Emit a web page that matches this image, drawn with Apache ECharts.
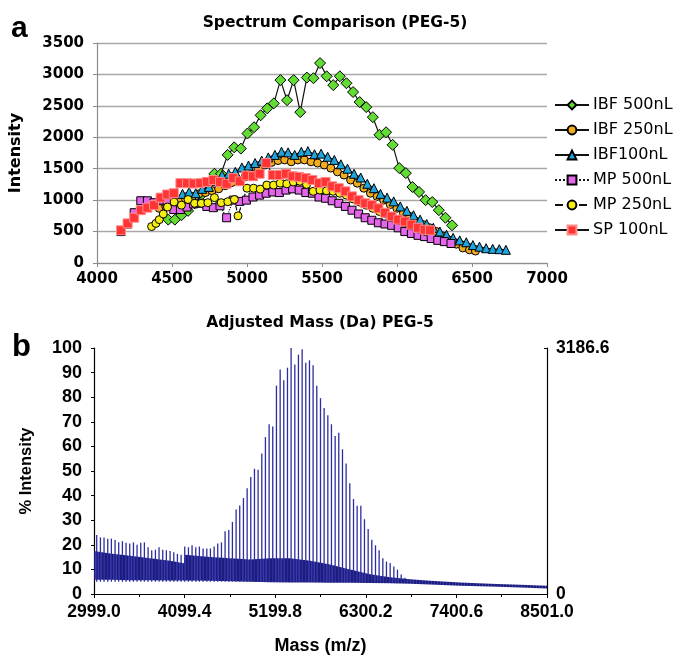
<!DOCTYPE html>
<html><head><meta charset="utf-8">
<script src="https://cdn.jsdelivr.net/npm/echarts@6/dist/echarts.min.js"></script>
<style>html,body{margin:0;padding:0;background:#fff}#c{width:676px;height:656px}</style>
</head><body><div id="c"></div>
<script>
// ---------- Panel a: Spectrum Comparison (PEG-5) ----------
const seriesNames = ['IBF 500nL', 'IBF 250nL', 'IBF100nL', 'MP 500nL', 'MP 250nL', 'SP 100nL'];

const ibf500Mass = [4475,4519,4563,4607,4651,4695,4739,4783,4827,4871,4915,4959,5003,5047,5091,5135,5179,5223,5267,5311,5355,5399,5443,5487,5531,5575,5619,5663,5707,5751,5795,5839,5883,5927,5971,6015,6059,6103,6147,6191,6235,6279,6323,6367];
const ibf500Int  = [690,690,760,830,950,1080,1250,1420,1420,1720,1840,1820,2060,2160,2350,2460,2540,2910,2590,2910,2400,2950,2940,3180,2970,2830,2970,2860,2720,2560,2480,2320,2040,2080,1880,1510,1430,1210,1130,1000,970,840,720,600];

const ibf250Mass = [4415,4459,4503,4547,4591,4635,4679,4723,4767,4811,4855,4899,4943,4987,5031,5075,5119,5163,5207,5251,5295,5339,5383,5427,5471,5515,5559,5603,5647,5691,5735,5779,5823,5867,5911,5955,5999,6043,6087,6131,6175,6219,6263,6307,6351,6395,6439,6483,6523];
const ibf250Int  = [870,900,930,980,1010,1060,1100,1120,1150,1180,1230,1280,1320,1370,1420,1500,1560,1600,1630,1640,1610,1640,1640,1610,1590,1560,1510,1450,1400,1320,1270,1190,1110,1060,1000,930,870,790,740,660,610,560,500,430,360,300,240,210,190];

const ibf100Mass = [4570,4614,4658,4702,4746,4790,4834,4878,4922,4966,5010,5054,5098,5142,5186,5230,5274,5318,5362,5406,5450,5494,5538,5582,5626,5670,5714,5758,5802,5846,5890,5934,5978,6022,6066,6110,6154,6198,6242,6286,6330,6374,6418,6462,6506,6550,6594,6638,6682,6726];
const ibf100Int  = [1100,1130,1110,1180,1210,1300,1400,1420,1450,1520,1550,1590,1630,1680,1720,1770,1760,1720,1770,1780,1730,1740,1690,1640,1570,1500,1420,1360,1260,1190,1100,1040,980,900,830,760,690,620,560,500,450,400,360,330,285,260,235,225,220,210];

const mp500Mass = [4160,4204,4248,4292,4336,4380,4424,4468,4512,4556,4600,4644,4688,4732,4776,4820,4864,4908,4952,4996,5040,5084,5128,5172,5216,5260,5304,5348,5392,5436,5480,5524,5568,5612,5656,5700,5744,5788,5832,5876,5920,5964,6008,6052,6096,6140,6184,6228,6272,6316,6360];
const mp500Int  = [500,620,800,990,990,960,1000,960,850,850,890,940,950,900,880,910,720,1000,980,1000,1050,1080,1110,1130,1120,1160,1180,1160,1120,1110,1050,1030,990,950,900,840,780,720,680,640,620,600,560,500,470,440,420,390,360,340,310];

const mp250Mass = [4364,4393,4415,4442,4470,4514,4563,4607,4651,4695,4739,4783,4828,4872,4916,4940,5000,5044,5088,5132,5177,5221,5265,5309,5353,5397,5441,5486,5530,5574,5618,5662,5707,5751,5795,5839,5883,5927,5971,6016,6060,6104,6148,6192];
const mp250Int  = [580,630,690,780,890,970,920,1010,950,950,960,1040,960,975,1010,750,1190,1190,1175,1240,1240,1270,1260,1290,1300,1250,1140,1160,1150,1140,1110,1080,1020,970,920,870,820,780,720,680,640,590,540,500];

const sp100Mass = [4160,4204,4248,4292,4336,4380,4424,4468,4512,4556,4600,4644,4688,4732,4776,4820,4864,4908,4952,4996,5040,5084,5128,5172,5216,5260,5304,5348,5392,5436,5480,5524,5568,5612,5656,5700,5744,5788,5832,5876,5920,5964,6008,6052,6096,6140,6184,6220];
const sp100Int  = [520,630,720,840,880,920,1040,1090,1110,1270,1270,1265,1270,1290,1320,1290,1260,1350,1300,1390,1380,1420,1590,1400,1400,1420,1380,1370,1350,1320,1270,1290,1220,1190,1140,1060,1000,950,920,870,800,740,690,660,610,560,530,520];

const topXTicks = [4000, 7000, 500];   // min, max, step
const topYTicks = [0, 3500, 500];

// ---------- Panel b: Adjusted Mass (Da) PEG-5 ----------
const peakMass = [3032,3077,3121,3166,3210,3255,3299,3344,3388,3433,3478,3522,3567,3611,3656,3700,3745,3789,3834,3878,3923,3968,4012,4057,4101,4146,4190,4235,4279,4324,4369,4413,4458,4502,4547,4591,4636,4680,4725,4769,4814,4859,4903,4948,4992,5037,5081,5126,5170,5215,5260,5304,5349,5393,5438,5482,5527,5571,5616,5660,5705,5750,5794,5839,5883,5928,5972,6017,6061,6106,6151,6195,6240,6284,6329,6373,6418,6462,6507,6551,6596,6641,6685,6730,6774,6819,6863];
const peakPct  = [24,23,23,22.5,22.5,22,21,21.5,20.8,20.5,21,20,20.8,21,19,17.8,18,19,18,17.8,17.5,17,16.3,16,19.3,19,19.8,19,19.3,18.5,18.5,18.5,19.3,20.5,21,25.5,26,29.3,34.4,36,39,43,47.6,
                  50.9,50.5,57.1,63.8,69,68.1,84.7,91.3,86.9,92,100,93.3,97.3,99.5,94,95,93,84.7,79.6,75.6,72.7,69,64.2,65.5,58.8,53,45,38.6,35.9,35.9,30.4,26.4,22.1,19.8,17.8,14.5,13.2,12.6,11.2,9.9,7.9,6.6,6,5.6];
const spectrumBaseline = 5;

const bandMass  = [2999,3193,3436,3679,3922,4090,4105,4408,4651,4894,5137,5380,5623,5866,6109,6352,6595,6838,7081,7446,7810,8175,8501];
const bandUpper = [17.5,16.5,15.5,14.5,13.5,12.5,16,15,14.5,14,14.5,14.5,13.5,12,10,8,6.8,6,5.4,4.7,4.2,3.8,3.4];
const bandLower = [5.8,5.8,5.6,5.6,5.5,5.5,5.5,5.4,5.2,5,4.8,4.7,4.7,4.6,4.6,4.5,4.4,4.2,3.9,3.4,3.0,2.6,2.2];

const massTicks = [2999.0, 4099.4, 5199.8, 6300.2, 7400.6, 8501.0];
const pctTicks = [0, 100, 10];
const rawIntensityMax = 3186.6;

// ---------- build ----------
const zip = (a, b) => a.map((v, i) => [v, b[i]]);
const FT = 'DejaVu Sans';
const FB = 'Liberation Sans';
const black = '#111';

// striped fill to mimic the dense noise band of the spectrum
const stripe = document.createElement('canvas');
stripe.width = 3; stripe.height = 4;
(function () {
  const g = stripe.getContext('2d');
  g.fillStyle = '#1c1c7a'; g.fillRect(0, 0, 3, 4);
  g.fillStyle = '#3a3aa6'; g.fillRect(2, 0, 1, 4);
})();

function mk(name, mass, inten, symbol, size, color, dash, border) {
  return {
    name, type: 'line', xAxisIndex: 0, yAxisIndex: 0,
    data: zip(mass, inten), symbol, symbolSize: size, showSymbol: true,
    lineStyle: { color: black, width: 1.2, type: dash },
    itemStyle: { color, borderColor: border || '#000', borderWidth: 1 },
    animation: false
  };
}

const chart = echarts.init(document.getElementById('c'), null, { renderer: 'canvas' });
chart.setOption({
  backgroundColor: '#fff',
  animation: false,
  graphic: [
    { type: 'text', left: 11, top: 14, style: { text: 'a', font: 'bold 30px "Liberation Sans"', fill: '#000' } },
    { type: 'text', left: 12, top: 332, style: { text: 'b', font: 'bold 31px "Liberation Sans"', fill: '#000' } },
    { type: 'text', x: 335, y: 23, style: { text: 'Spectrum Comparison (PEG-5)', font: 'bold 15.5px "DejaVu Sans"', fill: '#000', align: 'center', verticalAlign: 'middle' } },
    { type: 'text', x: 320, y: 323, style: { text: 'Adjusted Mass (Da) PEG-5', font: 'bold 15.5px "DejaVu Sans"', fill: '#000', align: 'center', verticalAlign: 'middle' } }
  ],
  legend: {
    data: seriesNames, orient: 'vertical', left: 549, top: 92,
    itemWidth: 34, itemHeight: 11, itemGap: 9,
    textStyle: { fontFamily: FT, fontSize: 16, color: '#000', lineHeight: 16, padding: [0, 0, 0, -1] }
  },
  grid: [
    { left: 94, top: 43, width: 453, height: 220, containLabel: false },
    { left: 94, top: 348, width: 453, height: 252, containLabel: false }
  ],
  xAxis: [
    { type: 'value', gridIndex: 0, min: topXTicks[0], max: topXTicks[1], interval: topXTicks[2],
      axisLine: { show: true, lineStyle: { color: '#8c8c8c', width: 1.2 } },
      axisTick: { show: true, length: 4, lineStyle: { color: '#8c8c8c' } },
      splitLine: { show: false },
      axisLabel: { margin: 9, fontFamily: FT, fontWeight: 'bold', fontSize: 15, color: '#000', formatter: v => String(v) } },
    { type: 'value', gridIndex: 1, min: massTicks[0], max: massTicks[massTicks.length - 1], interval: massTicks[1] - massTicks[0],
      name: 'Mass (m/z)', nameLocation: 'middle', nameGap: 43,
      nameTextStyle: { fontFamily: FB, fontWeight: 'bold', fontSize: 18, color: '#000' },
      axisLine: { show: true, lineStyle: { color: '#000', width: 1.2 } },
      axisTick: { show: true, length: 4, lineStyle: { color: '#000' } },
      minorTick: { show: true, splitNumber: 2, length: 3, lineStyle: { color: '#000' } },
      splitLine: { show: false },
      axisLabel: { margin: 9, fontFamily: FB, fontWeight: 'bold', fontSize: 17.5, color: '#000',
        formatter: v => v.toFixed(1) } }
  ],
  yAxis: [
    { type: 'value', gridIndex: 0, min: topYTicks[0], max: topYTicks[1], interval: topYTicks[2],
      name: 'Intensity', nameLocation: 'middle', nameGap: 73,
      nameTextStyle: { fontFamily: FT, fontWeight: 'bold', fontSize: 16, color: '#000' },
      axisLine: { show: true, lineStyle: { color: '#8c8c8c', width: 1.2 } },
      axisTick: { show: true, length: 4, lineStyle: { color: '#8c8c8c' } },
      splitLine: { show: true, lineStyle: { color: '#a8a8a8', width: 1.3 } },
      axisLabel: { margin: 13, fontFamily: FT, fontWeight: 'bold', fontSize: 15, color: '#000', formatter: v => String(v) } },
    { type: 'value', gridIndex: 1, min: pctTicks[0], max: pctTicks[1], interval: pctTicks[2],
      name: '% Intensity', nameLocation: 'middle', nameGap: 59,
      nameTextStyle: { fontFamily: FB, fontWeight: 'bold', fontSize: 16.5, color: '#000' },
      axisLine: { show: true, lineStyle: { color: '#000', width: 1.2 } },
      axisTick: { show: true, length: 3, lineStyle: { color: '#000' } },
      splitLine: { show: false },
      axisLabel: { margin: 12, fontFamily: FB, fontWeight: 'bold', fontSize: 18, color: '#000' } },
    { type: 'value', gridIndex: 1, position: 'right', min: 0, max: rawIntensityMax, interval: rawIntensityMax,
      axisLine: { show: true, lineStyle: { color: '#000', width: 1.2 } },
      axisTick: { show: true, inside: true, length: 3, lineStyle: { color: '#000' } },
      splitLine: { show: false },
      axisLabel: { margin: 9, fontFamily: FB, fontWeight: 'bold', fontSize: 17.5, color: '#000',
        formatter: v => v === 0 ? '0' : v.toFixed(1) } }
  ],
  series: [
    mk(seriesNames[0], ibf500Mass, ibf500Int, 'diamond', 11, '#62dc32'),
    mk(seriesNames[1], ibf250Mass, ibf250Int, 'circle', 8, '#f2ad1e'),
    mk(seriesNames[2], ibf100Mass, ibf100Int, 'triangle', 9, '#1fa4dc'),
    mk(seriesNames[3], mp500Mass, mp500Int, 'rect', 8, '#e466ea', 'dotted'),
    mk(seriesNames[4], mp250Mass, mp250Int, 'circle', 8, '#f6ee12', 'dashed'),
    mk(seriesNames[5], sp100Mass, sp100Int, 'rect', 9, '#ff3535', 'solid', '#ff8a8a'),
    {
      type: 'custom', xAxisIndex: 1, yAxisIndex: 1, silent: true, animation: false,
      data: [[bandMass[0], bandUpper[0]]],
      renderItem(params, api) {
        const pts = [];
        for (let i = 0; i < bandMass.length; i++) pts.push(api.coord([bandMass[i], bandUpper[i]]));
        for (let i = bandMass.length - 1; i >= 0; i--) pts.push(api.coord([bandMass[i], bandLower[i]]));
        return { type: 'polygon', shape: { points: pts }, style: { fill: { image: stripe, repeat: 'repeat' } } };
      }
    },
    {
      type: 'custom', xAxisIndex: 1, yAxisIndex: 1, silent: true, animation: false,
      data: zip(peakMass, peakPct),
      renderItem(params, api) {
        const top = api.coord([api.value(0), api.value(1)]);
        const bot = api.coord([api.value(0), spectrumBaseline]);
        return { type: 'line', shape: { x1: top[0], y1: top[1], x2: bot[0], y2: bot[1] },
                 style: { stroke: '#2c2ca0', lineWidth: 1.3 } };
      }
    }
  ]
});
</script></body></html>
